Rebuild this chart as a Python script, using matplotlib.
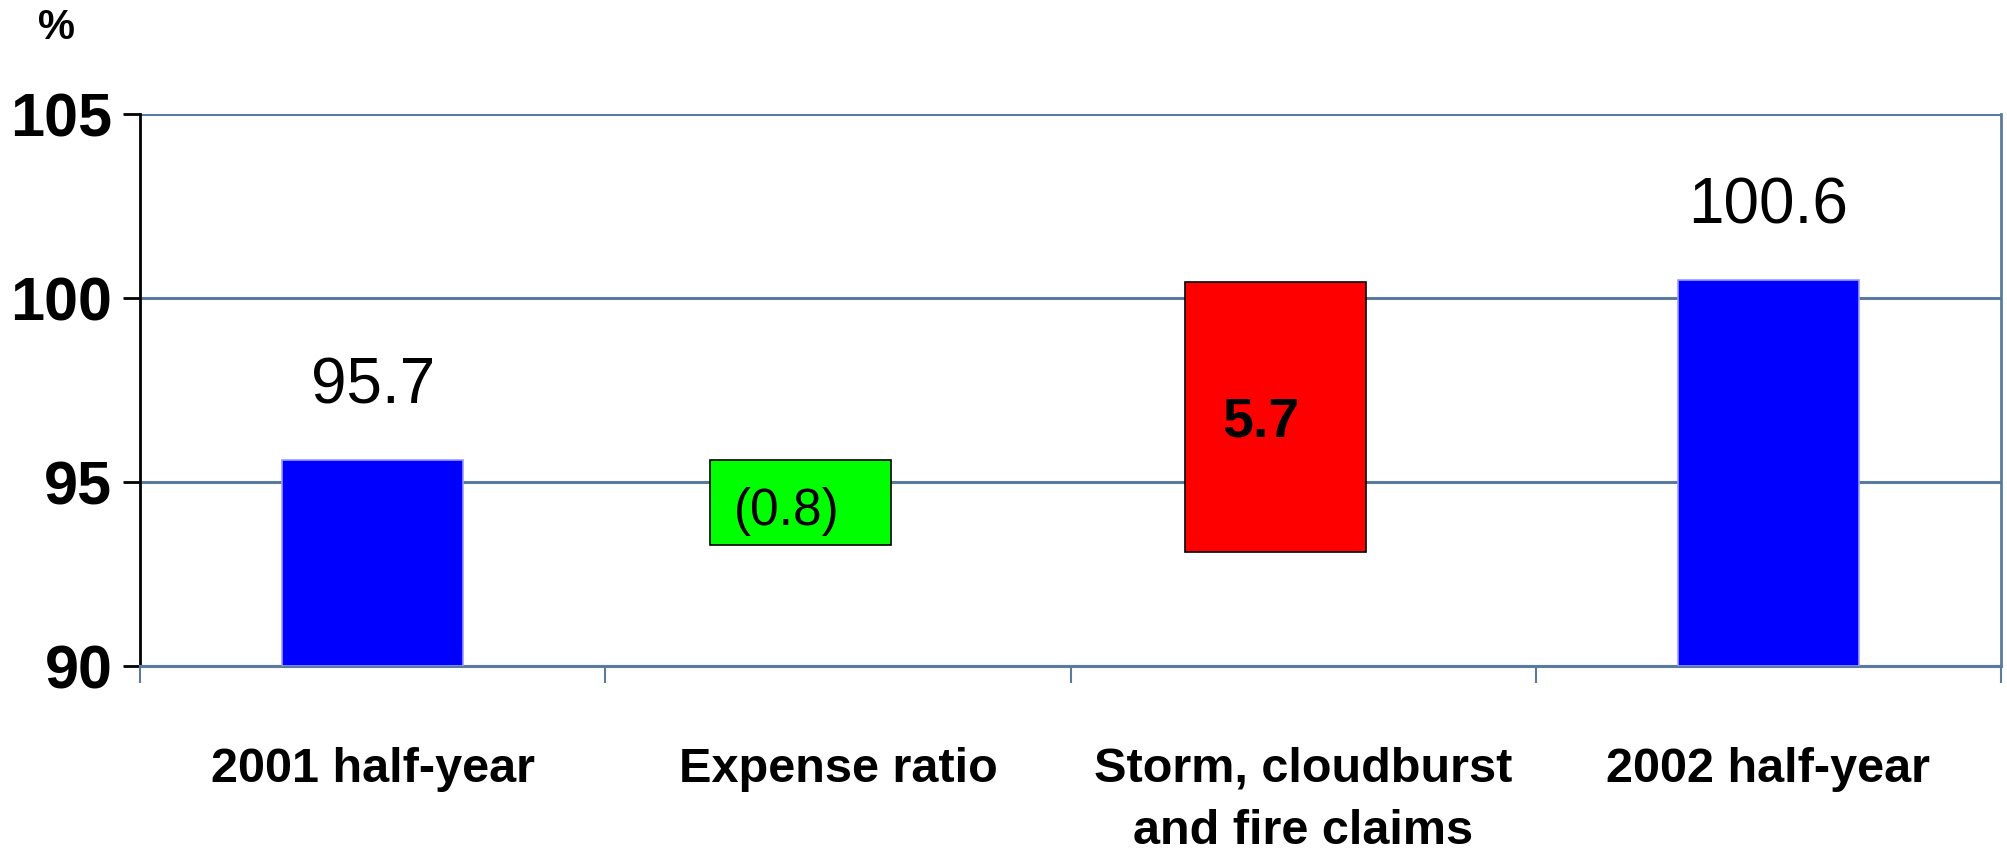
"""Waterfall chart: combined ratio 2001 vs 2002 half-year"""

import matplotlib
matplotlib.use("Agg")
from matplotlib import pyplot as plt

categories = ["2001 half-year", "Expense ratio",
              "Storm, cloudburst\nand fire claims", "2002 half-year"]
bar_bottom = [90.0, 93.3, 93.1, 90.0]
bar_top = [95.6, 95.6, 100.45, 100.5]
value_labels = ["95.7", "(0.8)", "5.7", "100.6"]
bar_colors = ["#0000FF", "#00FF00", "#FF0000", "#0000FF"]
y_ticks = [90, 95, 100, 105]

GRID = "#5B7B9E"
# the two middle bars sit a bit left of their category centre
bar_shift = [0.0, -0.08, -0.06, 0.0]
plt.rcParams["font.family"] = ["Liberation Sans", "DejaVu Sans"]

fig = plt.figure(figsize=(20.07, 8.64), dpi=100)
ax = fig.add_axes([0.0698, 0.229, 0.9272, 0.639])

x = list(range(len(categories)))
bx = [i + s for i, s in zip(x, bar_shift)]
heights = [t - b for t, b in zip(bar_top, bar_bottom)]
edges = ["#9999FF", "black", "black", "#9999FF"]
ax.bar(bx, heights, bottom=bar_bottom, width=0.39, color=bar_colors,
       edgecolor=edges, linewidth=1.2, zorder=3)

# totals above blue bars, changes inside coloured bars
ax.text(bx[0], bar_top[0] + 2.0, value_labels[0], ha="center", va="center",
        fontsize=46)
ax.text(bx[3], bar_top[3] + 2.0, value_labels[3], ha="center", va="center",
        fontsize=46)
ax.text(bx[1] - 0.03, (bar_top[1] + bar_bottom[1]) / 2 - 0.25, value_labels[1],
        ha="center", va="center", fontsize=37)
ax.text(bx[2] - 0.03, (bar_top[2] + bar_bottom[2]) / 2 - 0.15, value_labels[2],
        ha="center", va="center", fontsize=40, fontweight="bold")

ax.set_xlim(-0.5, 3.5)
ax.set_ylim(90, 105)
ax.set_yticks(y_ticks)
ax.set_yticklabels([str(v) for v in y_ticks], fontsize=44, fontweight="bold")
ax.yaxis.grid(True, color=GRID, linewidth=2.2, zorder=1)
ax.set_axisbelow(True)

ax.set_xticks(x)
ax.set_xticklabels(categories, fontsize=35, fontweight="bold",
                   linespacing=1.5, va="top")
ax.tick_params(axis="x", which="major", length=0, pad=58)
ax.set_xticks([-0.5, 0.5, 1.5, 2.5, 3.5], minor=True)
ax.tick_params(axis="x", which="minor", length=12, width=1.5,
               color=GRID, direction="out")
ax.tick_params(axis="y", length=12, width=2, color="black", pad=8)

ax.spines["top"].set_visible(False)
ax.spines["left"].set_color("black")
ax.spines["left"].set_linewidth(2)
ax.spines["bottom"].set_color(GRID)
ax.spines["bottom"].set_linewidth(2.2)
ax.spines["right"].set_color(GRID)
ax.spines["right"].set_linewidth(2)

fig.text(0.028, 0.968, "%", fontsize=30, fontweight="bold",
         ha="center", va="center")

fig.savefig("out.png", dpi=100)
